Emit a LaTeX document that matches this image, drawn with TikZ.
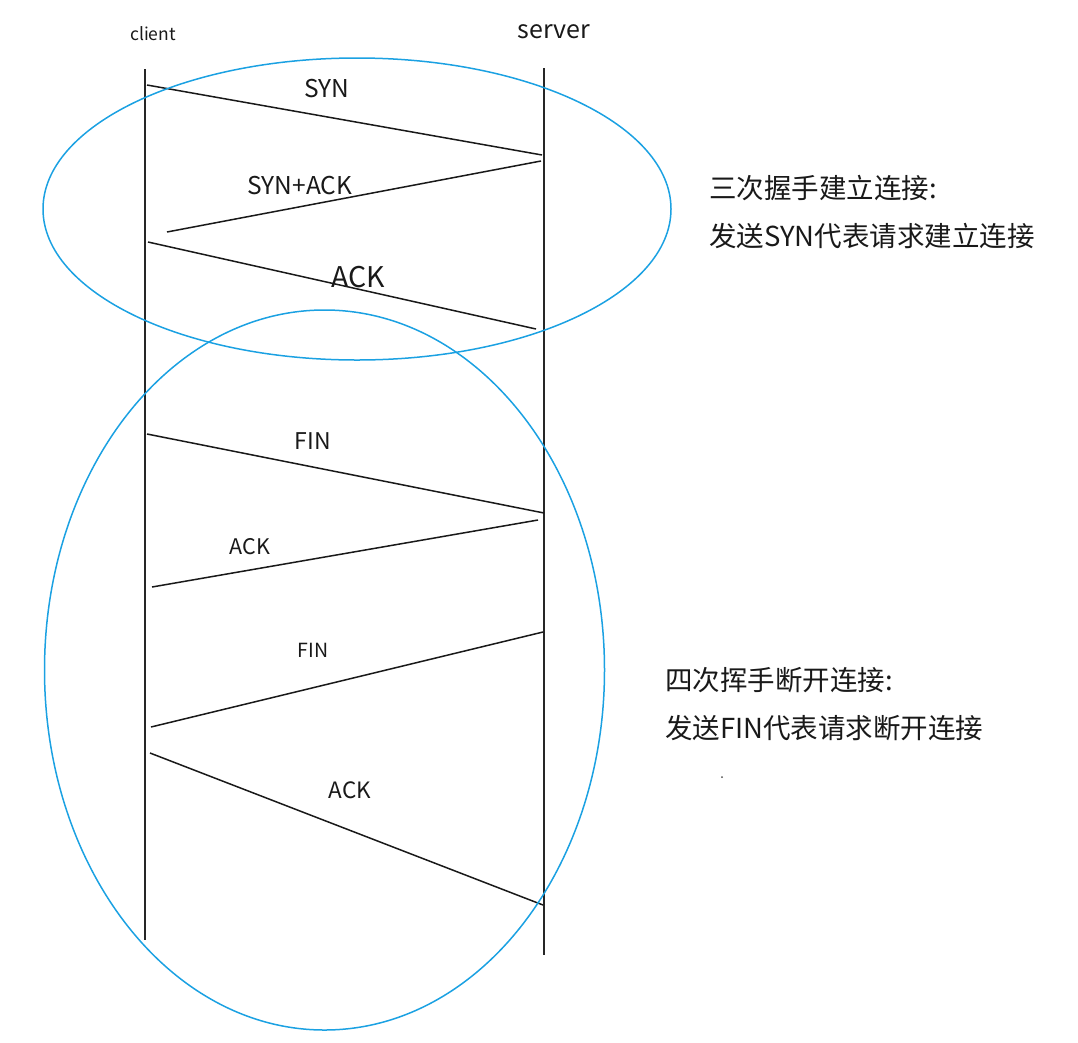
\documentclass[tikz,border=0pt]{standalone}
\usepackage{fontspec}
\setmainfont{Noto Sans CJK SC}
\begin{document}
\begin{tikzpicture}[x=1pt,y=-1pt,
  msg/.style={draw=black!90,line width=1.5pt},
  life/.style={draw=black!85,line width=1.6pt},
  ring/.style={draw={rgb,255:red,27;green,161;blue,226},line width=1.5pt},
  lbl/.style={inner sep=0pt,anchor=center,text=black!90},
  note/.style={inner sep=0pt,anchor=west,align=left,text=black!90,font=\fontsize{27.5}{48}\selectfont}]
\useasboundingbox (0,0) rectangle (1078,1042);
% lifelines
\coordinate (ctop) at (145,69);
\coordinate (cmid) at (145,453);
\coordinate (cbot) at (145,940);
\coordinate (stop) at (544,68);
\coordinate (sbot) at (544,955);
\draw[life,line width=2.3pt] (ctop) -- (cmid);
\draw[life] (cmid) -- (cbot);
\draw[life] (stop) -- (sbot);
\node[lbl,font=\fontsize{17.5}{18}\selectfont] (client) at (153,34) {client};
\node[lbl,font=\fontsize{25}{26}\selectfont] (server) at (554,32) {server};
% message endpoints
\coordinate (a1) at (147,85);  \coordinate (b1) at (542,155);
\coordinate (a2) at (541,161); \coordinate (b2) at (167,232);
\coordinate (a3) at (148,242); \coordinate (b3) at (536,329);
\coordinate (a4) at (147,434); \coordinate (b4) at (544,513);
\coordinate (a5) at (538,520); \coordinate (b5) at (152,587);
\coordinate (a6) at (543,632); \coordinate (b6) at (151,727);
\coordinate (a7) at (150,753); \coordinate (b7) at (543,905);
\draw[msg] (a1) -- (b1);
\draw[msg] (a2) -- (b2);
\draw[msg] (a3) -- (b3);
\draw[msg] (a4) -- (b4);
\draw[msg] (a5) -- (b5);
\draw[msg] (a6) -- (b6);
\draw[msg] (a7) -- (b7);
% labels
\node[lbl,font=\fontsize{24.5}{26}\selectfont] (l1) at (327,89) {SYN};
\node[lbl,font=\fontsize{24.5}{26}\selectfont] (l2) at (300,186) {SYN+ACK};
\node[lbl,font=\fontsize{28.5}{30}\selectfont] (l3) at (358,277) {ACK};
\node[lbl,font=\fontsize{23}{24}\selectfont] (l4) at (313,441) {FIN};
\node[lbl,font=\fontsize{21.5}{23}\selectfont] (l5) at (250,547) {ACK};
\node[lbl,font=\fontsize{19.5}{21}\selectfont] (l6) at (313,650) {FIN};
\node[lbl,font=\fontsize{22.5}{24}\selectfont] (l7) at (350,790) {ACK};
% ellipses
\draw[ring] (357,209) ellipse [x radius=314, y radius=151];
\draw[ring] (324.5,670) ellipse [x radius=280, y radius=360];
% notes
\node[note] (n1) at (709,212) {三次握手建立连接:\\发送SYN代表请求建立连接};
\node[note] (n2) at (665,704) {四次挥手断开连接:\\发送FIN代表请求断开连接};
\fill[black!70] (722,777) circle (1pt);
\end{tikzpicture}
\end{document}
